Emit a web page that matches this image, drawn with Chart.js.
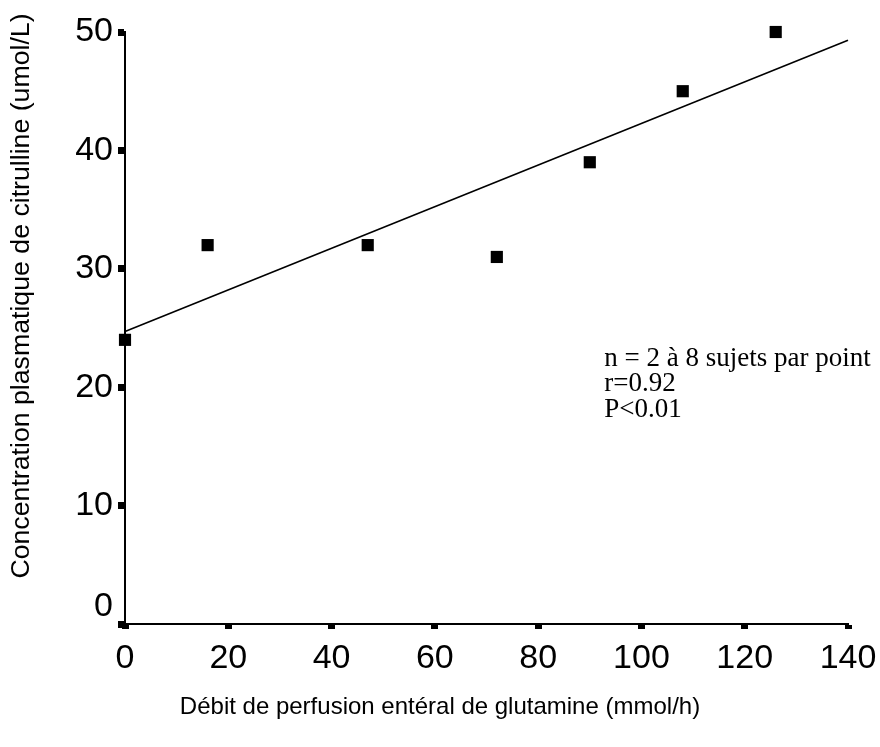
<!DOCTYPE html>
<html>
<head>
<meta charset="utf-8">
<script src="https://cdn.jsdelivr.net/npm/chart.js@4/dist/chart.umd.min.js"></script>
<style>
  html, body { margin: 0; padding: 0; background: #fff; }
  #wrap { width: 880px; height: 747px; }
</style>
</head>
<body>
<div id="wrap"><canvas id="citChart" width="880" height="747"></canvas></div>
<script>
// Glutamine infusion rate (mmol/h) vs plasma citrulline (umol/L)
const doseX = [0, 16, 47, 72, 90, 108, 126];
const citrulline = [24, 32, 32, 31, 39, 45, 50];

// regression line end points
const fitX = [0, 140];
const fitY = [24.7, 49.3];

const xTickValues = [0, 20, 40, 60, 80, 100, 120, 140];
const yTickValues = [0, 10, 20, 30, 40, 50];

const xTitle = 'Débit de perfusion entéral de glutamine (mmol/h)';
const yTitle = 'Concentration plasmatique de citrulline (umol/L)';
const noteLines = ['n = 2 à 8 sujets par point', 'r=0.92', 'P<0.01'];

const sans = '"Liberation Sans", Arial, Helvetica, sans-serif';
const serif = '"Liberation Serif", "Times New Roman", serif';

// axis titles and the note, drawn after the chart
const textPlugin = {
    id: 'textPlugin',
    afterDraw(chart) {
        const ctx = chart.ctx;
        const xs = chart.scales.x;
        const ys = chart.scales.y;
        ctx.save();
        ctx.fillStyle = '#000';
        ctx.textBaseline = 'middle';

        // note block
        ctx.font = '27px ' + serif;
        ctx.textAlign = 'left';
        const nx = xs.getPixelForValue(92.8);
        const ny = ys.getPixelForValue(22.4);
        noteLines.forEach((t, i) => ctx.fillText(t, nx, ny + i * 25.5));

        // x title
        ctx.font = '24px ' + sans;
        ctx.textAlign = 'center';
        ctx.fillText(xTitle, chart.width / 2, 707);

        // y title
        ctx.translate(22, 296);
        ctx.rotate(-Math.PI / 2);
        ctx.font = '26.7px ' + sans;
        ctx.fillText(yTitle, 0, 0);
        ctx.restore();
    }
};

new Chart(document.getElementById('citChart'), {
    type: 'scatter',
    data: {
        datasets: [
            {
                label: 'Points',
                data: doseX.map((x, i) => ({ x: x, y: citrulline[i] })),
                pointStyle: 'rect',
                pointRadius: 8.6,
                backgroundColor: '#000',
                borderColor: '#000',
                borderWidth: 0,
                clip: false
            },
            {
                type: 'line',
                label: 'Fit',
                data: fitX.map((x, i) => ({ x: x, y: fitY[i] })),
                borderColor: '#000',
                borderWidth: 1.6,
                pointRadius: 0,
                fill: false,
                clip: false
            }
        ]
    },
    options: {
        responsive: false,
        animation: false,
        events: [],
        layout: {
            padding: { top: 32, right: 32, left: 0, bottom: 0 }
        },
        scales: {
            x: {
                type: 'linear',
                min: 0,
                max: 140,
                afterFit: s => {
                    s.height = 123;
                    s.paddingLeft = 0;
                    s.paddingRight = 0;
                },
                afterBuildTicks: s => { s.ticks = xTickValues.map(v => ({ value: v })); },
                grid: {
                    drawOnChartArea: false,
                    drawTicks: true,
                    tickLength: 5,
                    tickWidth: 7,
                    tickColor: '#000'
                },
                border: { display: true, color: '#000', width: 2 },
                ticks: {
                    color: '#000',
                    padding: 9,
                    maxRotation: 0,
                    autoSkip: false,
                    font: { family: sans, size: 34, lineHeight: 1.2 }
                }
            },
            y: {
                type: 'linear',
                min: 0,
                max: 50,
                afterFit: s => { s.width = 125; },
                afterBuildTicks: s => { s.ticks = yTickValues.map(v => ({ value: v })); },
                grid: {
                    drawOnChartArea: false,
                    drawTicks: true,
                    tickLength: 7,
                    tickWidth: 7,
                    tickColor: '#000'
                },
                border: { display: true, color: '#000', width: 2 },
                ticks: {
                    color: '#000',
                    padding: 5,
                    autoSkip: false,
                    font: { family: sans, size: 34, lineHeight: 1.0 },
                    // the 0 label sits a little above its tick
                    callback: v => (v === 0 ? ['0', ''] : String(v))
                }
            }
        },
        plugins: {
            legend: { display: false },
            tooltip: { enabled: false },
            title: { display: false }
        }
    },
    plugins: [textPlugin]
});
</script>
</body>
</html>
